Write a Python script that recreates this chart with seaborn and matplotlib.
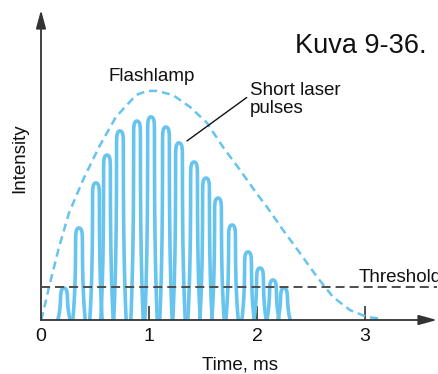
import numpy as np
import pandas as pd
import matplotlib
matplotlib.use("Agg")
import matplotlib.pyplot as plt
import seaborn as sns

# ---------------- data ----------------
flash_t = [0.0, 0.019, 0.074, 0.167, 0.259, 0.389, 0.537, 0.694, 0.880, 0.98, 1.074,
           1.222, 1.380, 1.537, 1.685, 1.843, 2.000, 2.093, 2.241, 2.398, 2.556,
           2.704, 2.861, 3.019, 3.167]
flash_i = [0.0, 0.030, 0.143, 0.317, 0.465, 0.609, 0.752, 0.883, 0.978, 0.996, 0.996,
           0.978, 0.926, 0.857, 0.752, 0.652, 0.548, 0.491, 0.391, 0.291, 0.187,
           0.100, 0.043, 0.013, 0.004]

pulse_t = [0.213, 0.352, 0.509, 0.611, 0.731, 0.889, 1.019, 1.157, 1.278,
           1.417, 1.528, 1.639, 1.769, 1.917, 2.028, 2.148, 2.250]
pulse_peak = [0.139, 0.400, 0.596, 0.717, 0.822, 0.865, 0.883, 0.839, 0.770,
              0.687, 0.617, 0.530, 0.413, 0.296, 0.226, 0.174, 0.139]

threshold = 0.143
x_ticks = [0, 1, 2, 3]
x_tick_labels = ["0", "1", "2", "3"]

title_text = "Kuva 9-36."
flash_label = "Flashlamp"
pulse_label = "Short laser\npulses"
threshold_label = "Threshold"
x_label = "Time, ms"
y_label = "Intensity"

# ---------------- style ----------------
sns.set_theme(style="white")
plt.rcParams["font.family"] = ["Liberation Sans", "DejaVu Sans"]

BLUE = "#66C4EF"
DARK = "#333333"
GREY = "#4d4d4d"

W, H = 438, 374
fig = plt.figure(figsize=(W / 100, H / 100), dpi=100)
ax_l, ax_r, ax_b, ax_t = 41, 437, 320, 10
ax = fig.add_axes([ax_l / W, (H - ax_b) / H, (ax_r - ax_l) / W, (ax_b - ax_t) / H])

PX_X = 1 / 108.0   # ms per pixel
PX_Y = 1 / 230.0   # intensity per pixel
ax.set_xlim(0, (ax_r - ax_l) * PX_X)
ax.set_ylim(0, (ax_b - ax_t) * PX_Y)


def pulse_outline(c, h):
    """Narrow rounded pulse shape of given centre and peak height."""
    h_px = h / PX_Y
    t = np.concatenate([np.linspace(0, 0.9, 15), 1 - np.geomspace(0.1, 1e-4, 30), [1.0]])
    n = max(h_px / 3.0, 2.0)
    w = (3.4 + 2.8 * (1 - t) ** 3) * np.sqrt(np.clip(1 - t ** n, 0, 1))
    xs = np.concatenate([c - w * PX_X, (c + w * PX_X)[::-1]])
    ys = np.concatenate([t * h, (t * h)[::-1]])
    return xs, ys


rows = []
for k, (c, h) in enumerate(zip(pulse_t, pulse_peak)):
    xs, ys = pulse_outline(c, h)
    for i, (xv, yv) in enumerate(zip(xs, ys)):
        rows.append({"pulse": k, "order": i, "t": xv, "I": yv})
pulses = pd.DataFrame(rows)

sns.lineplot(data=pulses, x="t", y="I", units="pulse", estimator=None, sort=False,
             color=BLUE, lw=2.6, ax=ax, solid_joinstyle="round", solid_capstyle="butt")

flash = pd.DataFrame({"t": flash_t, "I": flash_i})
lw_f = 1.8
sns.lineplot(data=flash, x="t", y="I", color=BLUE, lw=lw_f, ax=ax,
             ls=(0, (5.8 / lw_f, 3.6 / lw_f)))

lw_th = 1.4
ax.axhline(threshold, color=GREY, lw=lw_th, ls=(0, (6.5 / lw_th, 3.6 / lw_th)), zorder=5)

# axes with arrows
for s in ax.spines.values():
    s.set_visible(False)
arrow = dict(arrowstyle="-|>,head_length=1.1,head_width=0.3", mutation_scale=10,
             lw=1.3, color=DARK, shrinkA=0, shrinkB=0)
ax.annotate("", xy=(0, 1), xytext=(0, 0), xycoords="axes fraction", arrowprops=arrow,
            annotation_clip=False)
ax.annotate("", xy=(1, 0), xytext=(0, 0), xycoords="axes fraction", arrowprops=arrow,
            annotation_clip=False)

ax.set_xticks(x_ticks, x_tick_labels)
ax.set_yticks([])
ax.tick_params(axis="x", direction="in", length=10, width=1.2, color=DARK, pad=6,
               labelsize=14, labelcolor="#111111", bottom=True)
ax.xaxis.get_major_ticks()[0].tick1line.set_visible(False)
ax.set_xlabel("")
ax.set_ylabel("")

# texts
fs = 13.5
fig.text(295 / W, 1 - 53 / H, title_text, fontsize=19.5, color="#111111",
         ha="left", va="baseline")
fig.text(108 / W, 1 - 81 / H, flash_label, fontsize=fs, color="#111111",
         ha="left", va="baseline")
fig.text(359 / W, 1 - 282 / H, threshold_label, fontsize=fs, color="#111111",
         ha="left", va="baseline")
fig.text(240 / W, 1 - 370 / H, x_label, fontsize=fs, color="#111111",
         ha="center", va="baseline")
fig.text(20 / W, 1 - 158 / H, y_label, fontsize=fs, color="#111111",
         ha="center", va="center", rotation=90)

# leader line for the pulses label
ax.annotate(pulse_label, xy=(pulse_t[8] + 8 * PX_X, pulse_peak[8] + 2 * PX_Y),
            xytext=(250 / W, 1 - 113 / H), textcoords="figure fraction",
            fontsize=fs, color="#111111", ha="left", va="baseline", linespacing=1.1,
            arrowprops=dict(arrowstyle="-", lw=1.0, color="#111111",
                            shrinkA=0, shrinkB=0, relpos=(0, 0.62)))

fig.savefig("out.png", dpi=100)
